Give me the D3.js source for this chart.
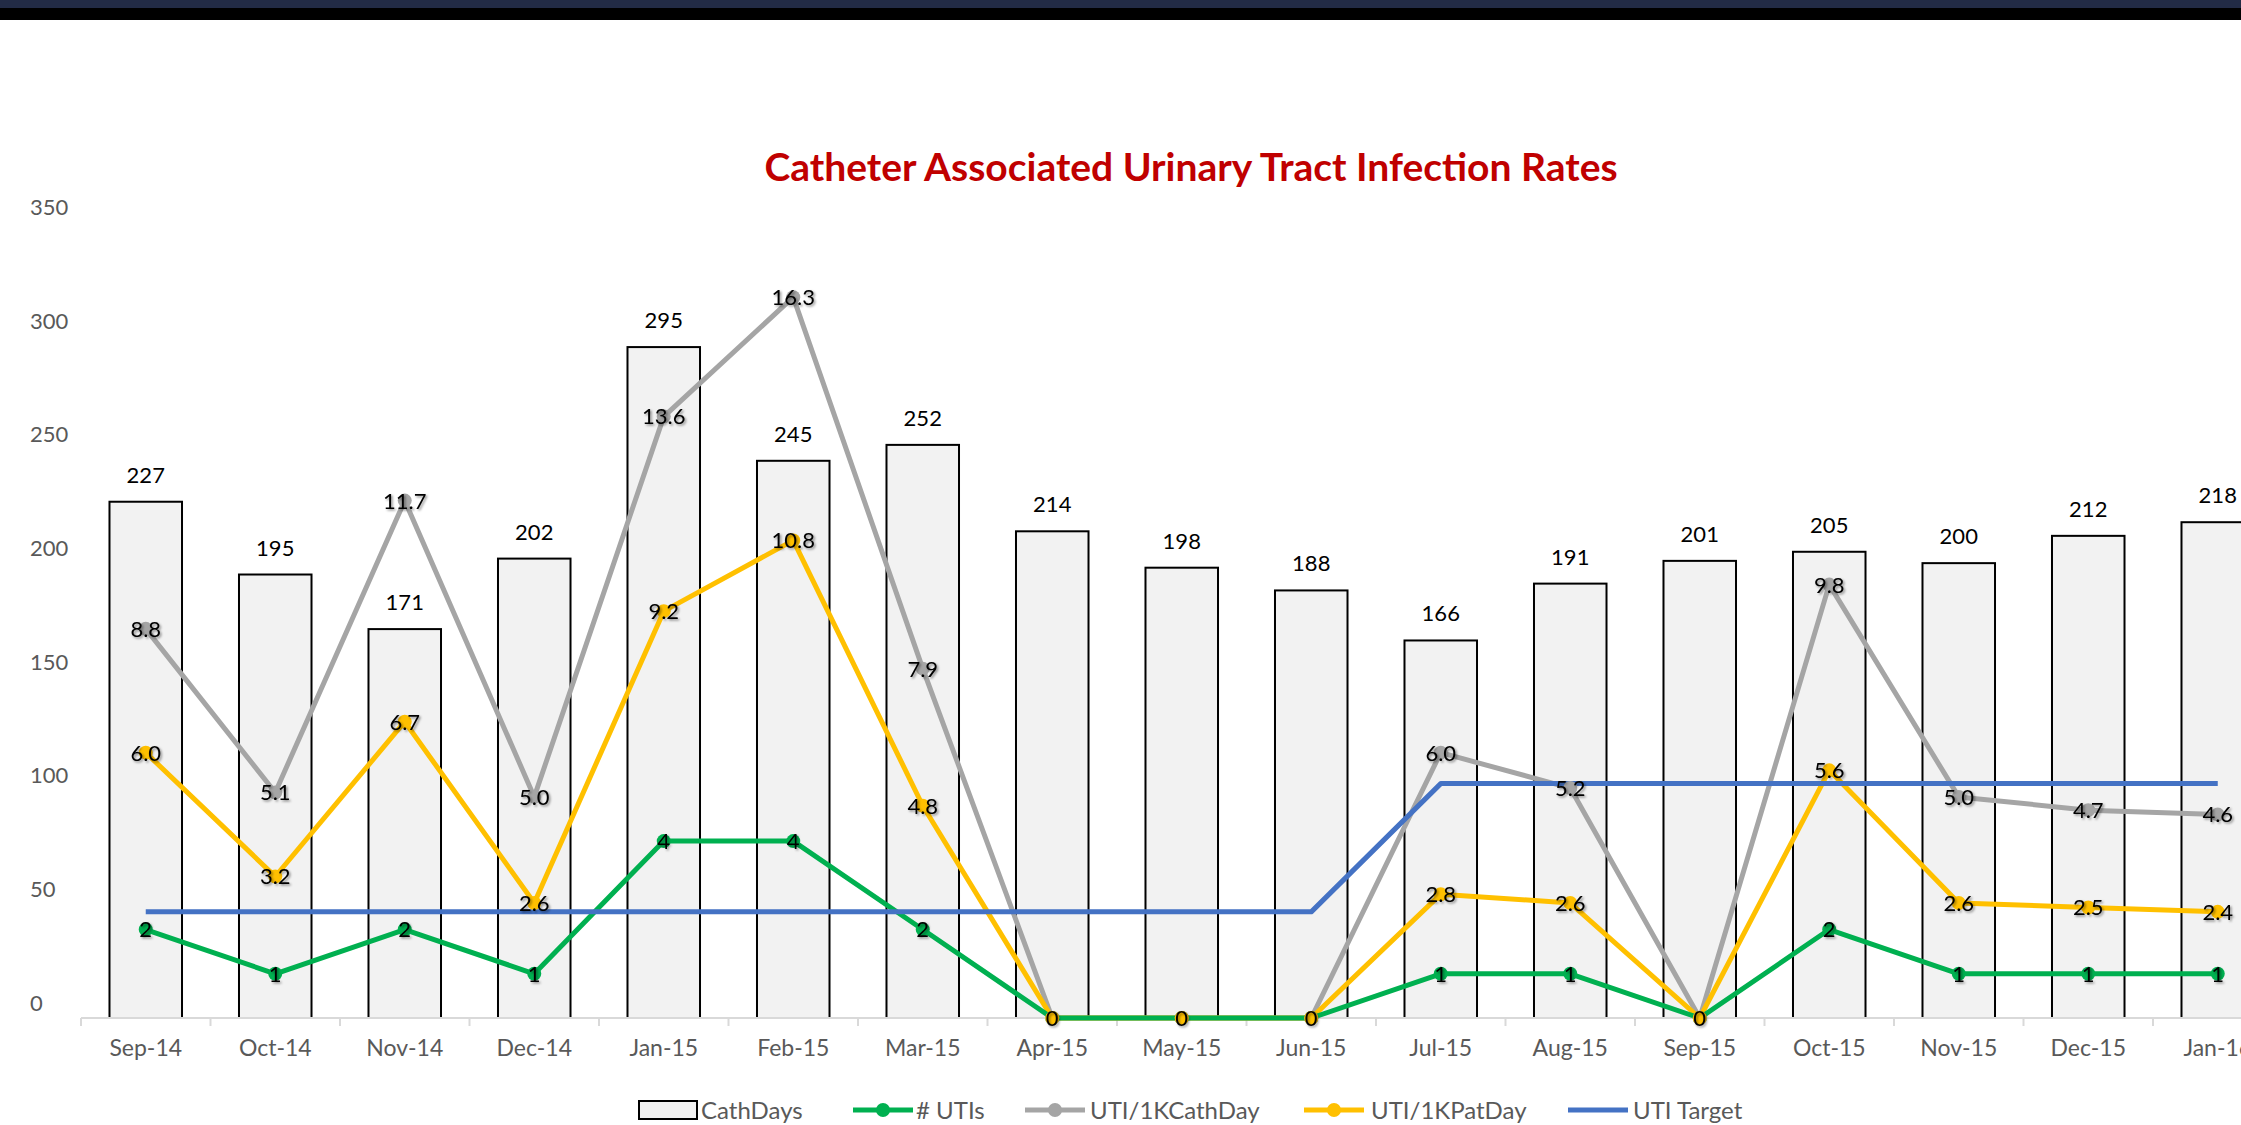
<!DOCTYPE html>
<html>
<head>
  <style>
    body { margin: 0; background: #fff; }
    text { font-family: Lato, "Open Sans", sans-serif; }
  </style>
  <title>Catheter Associated Urinary Tract Infection Rates</title>
  <script src="https://cdn.jsdelivr.net/npm/d3@7"></script>
</head>
<body>
<script>
  // Chart data
  const months = ["Sep-14", "Oct-14", "Nov-14", "Dec-14", "Jan-15", "Feb-15", "Mar-15", "Apr-15", "May-15",
                  "Jun-15", "Jul-15", "Aug-15", "Sep-15", "Oct-15", "Nov-15", "Dec-15", "Jan-16"];
  const cathDays = [227, 195, 171, 202, 295, 245, 252, 214, 198, 188, 166, 191, 201, 205, 200, 212, 218];
  const utis = [2, 1, 2, 1, 4, 4, 2, 0, 0, 0, 1, 1, 0, 2, 1, 1, 1];
  const utiPerCathDay = [8.8, 5.1, 11.7, 5.0, 13.6, 16.3, 7.9, 0, 0, 0, 6.0, 5.2, 0, 9.8, 5.0, 4.7, 4.6];
  const utiPerPatDay = [6.0, 3.2, 6.7, 2.6, 9.2, 10.8, 4.8, 0, 0, 0, 2.8, 2.6, 0, 5.6, 2.6, 2.5, 2.4];
  const utiTarget = [2.4, 2.4, 2.4, 2.4, 2.4, 2.4, 2.4, 2.4, 2.4, 2.4, 5.3, 5.3, 5.3, 5.3, 5.3, 5.3, 5.3];
  const yTicks = [0, 50, 100, 150, 200, 250, 300, 350];

  const width = 2241, height = 1125;
  const axisY = 1018, topY = 222, left = 81, step = 129.5;

  const svg = d3.select("body").append("svg")
      .attr("width", width)
      .attr("height", height);

  // drop shadow used by the data labels
  const defs = svg.append("defs");
  defs.append("filter").attr("id", "shadow")
      .attr("x", "-20%").attr("y", "-20%").attr("width", "140%").attr("height", "140%")
    .append("feDropShadow")
      .attr("dx", 1.5).attr("dy", 1.5).attr("stdDeviation", 1.2)
      .attr("flood-color", "#000").attr("flood-opacity", 0.45);

  // window band at the top of the screenshot
  svg.append("rect").attr("width", width).attr("height", 20).attr("fill", "#000");
  svg.append("rect").attr("width", width).attr("height", 8).attr("fill", "#222b45");

  // Scales
  const x = d3.scaleBand().domain(months).range([left, left + months.length * step]).padding(0);
  const bw = x.bandwidth();
  const cx = d => x(d) + bw / 2;
  const y = d3.scaleLinear().domain([0, 350]).range([axisY, topY]);
  const y2 = d3.scaleLinear().domain([0, 18]).range([axisY, topY]);

  // Title
  svg.append("text")
      .attr("x", 1191)
      .attr("y", 181)
      .attr("text-anchor", "middle")
      .style("font-size", "39px")
      .style("font-weight", "bold")
      .style("fill", "#c00000")
      .text("Catheter Associated Urinary Tract Infection Rates");

  // y axis (labels only, sitting a little above their values like the original)
  const yAxis = svg.append("g")
      .attr("transform", "translate(30,0)")
      .call(d3.axisLeft(y).tickValues(yTicks).tickSize(0));
  yAxis.select(".domain").remove();
  yAxis.selectAll("text")
      .attr("x", 0)
      .attr("dy", "-0.35em")
      .attr("text-anchor", "start")
      .style("font-size", "22px")
      .style("font-family", "Lato, sans-serif")
      .style("fill", "#595959");

  // Bars
  svg.append("g").selectAll("rect")
      .data(cathDays)
      .enter().append("rect")
        .attr("x", (d, i) => x(months[i]) + bw * 0.22)
        .attr("width", bw * 0.56)
        .attr("y", d => y(d))
        .attr("height", d => axisY - y(d))
        .attr("fill", "#f2f2f2")
        .attr("stroke", "#000")
        .attr("stroke-width", 2);

  // x axis
  svg.append("line")
      .attr("x1", left).attr("x2", width)
      .attr("y1", axisY).attr("y2", axisY)
      .attr("stroke", "#d9d9d9").attr("stroke-width", 2);
  svg.append("g").selectAll("line")
      .data(months)
      .enter().append("line")
        .attr("x1", d => x(d)).attr("x2", d => x(d))
        .attr("y1", axisY).attr("y2", axisY + 8)
        .attr("stroke", "#d9d9d9").attr("stroke-width", 2);
  const xAxis = svg.append("g")
      .attr("transform", "translate(0," + axisY + ")")
      .call(d3.axisBottom(x).tickSize(0).tickPadding(22));
  xAxis.select(".domain").remove();
  xAxis.selectAll("text")
      .style("font-size", "23px")
      .style("font-family", "Lato, sans-serif")
      .style("fill", "#595959");

  // Lines
  const line = d3.line().x((d, i) => cx(months[i])).y(d => y2(d));
  const series = [
    {name: "# UTIs", values: utis, color: "#00b050", marker: true},
    {name: "UTI/1KCathDay", values: utiPerCathDay, color: "#a5a5a5", marker: true},
    {name: "UTI/1KPatDay", values: utiPerPatDay, color: "#ffc000", marker: true},
    {name: "UTI Target", values: utiTarget, color: "#4472c4", marker: false}
  ];
  // draw order: gray, yellow, green lines, then target; markers on top
  [series[1], series[2], series[0], series[3]].forEach(s => {
    svg.append("path")
        .datum(s.values)
        .attr("d", line)
        .attr("fill", "none")
        .attr("stroke", s.color)
        .attr("stroke-width", 5)
        .attr("stroke-linejoin", "round");
  });
  series.filter(s => s.marker).forEach(s => {
    svg.append("g").selectAll("circle")
        .data(s.values)
        .enter().append("circle")
          .attr("cx", (d, i) => cx(months[i]))
          .attr("cy", d => y2(d))
          .attr("r", 7)
          .attr("fill", s.color);
  });

  // Bar labels
  svg.append("g").selectAll("text")
      .data(cathDays)
      .enter().append("text")
        .attr("x", (d, i) => cx(months[i]))
        .attr("y", d => y(d) - 19)
        .attr("text-anchor", "middle")
        .style("font-size", "22px")
        .style("fill", "#000")
        .text(d => d);

  // Line labels, centred on the points
  const labelSets = [
    {values: utiPerCathDay, fmt: d => d.toFixed(1)},
    {values: utiPerPatDay, fmt: d => d.toFixed(1)},
    {values: utis, fmt: d => d}
  ];
  labelSets.forEach(s => {
    svg.append("g").selectAll("text")
        .data(s.values.map((v, i) => ({v: v, m: months[i]})).filter(d => d.v > 0 || s.values === utis))
        .enter().append("text")
          .attr("x", d => cx(d.m))
          .attr("y", d => y2(d.v))
          .attr("dy", "0.36em")
          .attr("text-anchor", "middle")
          .attr("filter", "url(#shadow)")
          .style("font-size", "22px")
          .style("fill", "#000")
          .text(d => s.fmt(d.v));
  });

  // Legend
  const legendY = 1110;
  const legend = svg.append("g");
  legend.append("rect")
      .attr("x", 639).attr("y", legendY - 9)
      .attr("width", 58).attr("height", 18)
      .attr("fill", "#f2f2f2").attr("stroke", "#000").attr("stroke-width", 2);
  legend.append("text")
      .attr("x", 701).attr("y", legendY).attr("dy", "0.36em")
      .style("font-size", "24px").style("fill", "#595959")
      .text("CathDays");
  const legendItems = [
    {s: series[0], x: 853, tx: 916},
    {s: series[1], x: 1025, tx: 1090},
    {s: series[2], x: 1304, tx: 1371},
    {s: series[3], x: 1568, tx: 1633}
  ];
  legendItems.forEach(it => {
    legend.append("line")
        .attr("x1", it.x).attr("x2", it.x + 60)
        .attr("y1", legendY).attr("y2", legendY)
        .attr("stroke", it.s.color).attr("stroke-width", 5);
    if (it.s.marker) {
      legend.append("circle")
          .attr("cx", it.x + 30).attr("cy", legendY).attr("r", 7)
          .attr("fill", it.s.color);
    }
    legend.append("text")
        .attr("x", it.tx).attr("y", legendY).attr("dy", "0.36em")
        .style("font-size", "24px").style("fill", "#595959")
        .text(it.s.name);
  });
</script>
</body>
</html>
